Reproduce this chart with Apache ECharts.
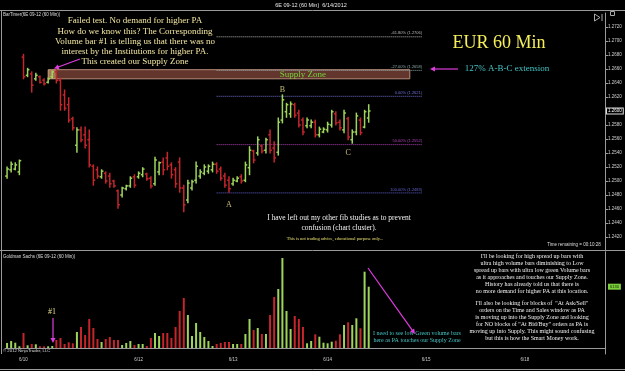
<!DOCTYPE html>
<html>
<head>
<meta charset="utf-8">
<title>6E 09-12 (60 Min)</title>
<script src="https://cdn.jsdelivr.net/npm/echarts@6/dist/echarts.min.js"></script>
<style>
  html, body { margin: 0; padding: 0; background: #000; }
  #chart { width: 625px; height: 371px; }
</style>
</head>
<body>
<div id="chart"></div>
<script>
// 60 min bars, 6/8 late session to 6/14, one slot per hour (empty slots = future space)
var barCount = 146;
var categories = [];
for (var i = 0; i < barCount; i++) categories.push(String(i));

var tickIndex = [4, 9, 32, 55, 78, 102, 126];
var tickLabel = ['6/10', '', '6/12', '6/13', '6/14', '6/15', '6/18'];

var opens = [1.2507,1.2516,1.2517,1.2513,1.2677,1.2651,1.2653,1.2646,1.2649,1.2644,
  1.2641,1.2649,1.2656,1.2644,1.2623,1.2609,1.2589,1.2551,1.2573,1.2566,
  1.2559,1.2521,1.2516,1.2506,1.2511,1.2507,1.2500,1.2486,1.2480,1.2489,
  1.2493,1.2506,1.2506,1.2509,1.2510,1.2504,1.2496,1.2513,1.2527,1.2533,
  1.2523,1.2516,1.2527,1.2490,1.2473,1.2490,1.2501,1.2507,1.2511,1.2514,
  1.2516,1.2524,1.2517,1.2507,1.2501,1.2496,1.2500,1.2506,1.2501,1.2519,
  1.2543,1.2540,1.2550,1.2544,1.2566,1.2547,1.2541,1.2587,1.2599,1.2596,
  1.2609,1.2597,1.2587,1.2579,1.2579,1.2584,1.2566,1.2570,1.2573,1.2580,
  1.2596,1.2584,1.2573,1.2589,1.2559,1.2570,1.2587,1.2577,1.2590];
var highs = [1.2520,1.2527,1.2526,1.2530,1.2681,1.2661,1.2656,1.2654,1.2650,1.2646,
  1.2647,1.2657,1.2659,1.2647,1.2630,1.2619,1.2591,1.2576,1.2577,1.2577,
  1.2573,1.2523,1.2520,1.2516,1.2513,1.2511,1.2501,1.2487,1.2491,1.2494,
  1.2506,1.2509,1.2513,1.2519,1.2511,1.2506,1.2534,1.2527,1.2533,1.2541,
  1.2526,1.2519,1.2533,1.2494,1.2501,1.2501,1.2527,1.2516,1.2523,1.2523,
  1.2527,1.2526,1.2520,1.2511,1.2506,1.2504,1.2506,1.2509,1.2527,1.2549,
  1.2544,1.2563,1.2551,1.2561,1.2573,1.2556,1.2590,1.2623,1.2611,1.2613,
  1.2611,1.2601,1.2590,1.2590,1.2587,1.2587,1.2577,1.2576,1.2584,1.2601,
  1.2599,1.2587,1.2601,1.2591,1.2573,1.2597,1.2590,1.2601,1.2609];
var lows = [1.2504,1.2513,1.2516,1.2509,1.2646,1.2649,1.2627,1.2644,1.2640,1.2637,
  1.2640,1.2647,1.2640,1.2601,1.2601,1.2584,1.2573,1.2541,1.2556,1.2547,
  1.2520,1.2494,1.2504,1.2504,1.2497,1.2491,1.2491,1.2461,1.2477,1.2487,
  1.2491,1.2491,1.2504,1.2506,1.2501,1.2490,1.2494,1.2509,1.2509,1.2516,
  1.2504,1.2491,1.2484,1.2456,1.2469,1.2487,1.2497,1.2504,1.2509,1.2511,
  1.2513,1.2511,1.2501,1.2491,1.2484,1.2494,1.2499,1.2497,1.2499,1.2509,
  1.2526,1.2537,1.2540,1.2540,1.2540,1.2527,1.2537,1.2583,1.2591,1.2591,
  1.2591,1.2577,1.2566,1.2576,1.2576,1.2563,1.2563,1.2569,1.2570,1.2577,
  1.2580,1.2573,1.2569,1.2559,1.2554,1.2566,1.2566,1.2576,1.2584];
var closes = [1.2517,1.2524,1.2523,1.2529,1.2649,1.2659,1.2637,1.2651,1.2641,1.2639,
  1.2646,1.2656,1.2644,1.2609,1.2604,1.2587,1.2576,1.2573,1.2559,1.2551,
  1.2523,1.2501,1.2507,1.2514,1.2500,1.2496,1.2493,1.2466,1.2490,1.2493,
  1.2504,1.2494,1.2511,1.2517,1.2503,1.2493,1.2530,1.2526,1.2516,1.2521,
  1.2509,1.2496,1.2490,1.2466,1.2497,1.2499,1.2521,1.2513,1.2520,1.2521,
  1.2524,1.2514,1.2504,1.2494,1.2489,1.2501,1.2504,1.2500,1.2523,1.2544,
  1.2530,1.2559,1.2543,1.2559,1.2544,1.2533,1.2584,1.2616,1.2609,1.2610,
  1.2594,1.2580,1.2570,1.2587,1.2584,1.2566,1.2574,1.2574,1.2581,1.2599,
  1.2583,1.2576,1.2597,1.2563,1.2570,1.2593,1.2569,1.2599,1.2600];
var volumes = [500,700,530,170,1500,270,400,370,170,170,
  170,200,800,1000,400,570,470,1600,2100,1300,
  2900,2000,900,600,900,1100,800,800,300,500,
  700,300,400,400,200,1000,1500,1200,1500,1500,
  1000,2100,3700,5000,3300,1200,2500,1600,1100,700,
  200,400,500,600,600,400,400,400,1400,2900,
  1800,2000,1400,1400,3300,5100,5900,9000,3700,1900,
  3200,2900,2100,470,700,1370,1130,530,470,630,
  730,1370,2300,2570,2300,2970,1970,7630,6130];

// fib study (A 1.2483, B 1.2621)
var fibNames = ['-61.80%', '-27.00%', '0.00%', '50.00%', '100.00%'];
var fibLevels = [1.2706, 1.2658, 1.2621, 1.2552, 1.2483];
var supplyZone = [1.2646, 1.2659];
var lastPrice = 1.2600;

var up = '#9fd45c';
var down = '#c4262c';
var magenta = '#e03ce0';
var serif = '"Liberation Serif", "DejaVu Serif", serif';
var sans = '"Liberation Sans", "DejaVu Sans", sans-serif';

var ohlc = opens.map(function (o, i) {
  return [i, o, closes[i], lows[i], highs[i]];
});
var volData = volumes.map(function (v, i) {
  return { value: v, itemStyle: { color: closes[i] >= opens[i] ? up : down } };
});

// OHLC bar: high-low stick, open tick left, close tick right
function renderBar(params, api) {
  var x = api.value(0);
  var o = api.coord([x, api.value(1)]);
  var c = api.coord([x, api.value(2)]);
  var l = api.coord([x, api.value(3)]);
  var h = api.coord([x, api.value(4)]);
  var w = api.size([1, 0])[0] * 0.45;
  var st = { stroke: api.value(2) >= api.value(1) ? up : down, lineWidth: 1.5 };
  return {
    type: 'group',
    children: [
      { type: 'line', shape: { x1: h[0], y1: h[1] - 0.5, x2: l[0], y2: l[1] + 0.5 }, style: st },
      { type: 'line', shape: { x1: o[0] - w, y1: o[1], x2: o[0], y2: o[1] }, style: st },
      { type: 'line', shape: { x1: c[0], y1: c[1], x2: c[0] + w, y2: c[1] }, style: st }
    ]
  };
}

var fibColors = ['#b8b8b8', '#8aa8a8', '#7070d8', '#b040b8', '#6060d0'];
var fibSeries = fibLevels.map(function (lv, k) {
  var s = {
    type: 'line',
    xAxisIndex: 0,
    yAxisIndex: 0,
    symbol: 'none',
    silent: true,
    lineStyle: { color: fibColors[k], width: 1, type: 'dotted' },
    data: [[51, lv], [101, lv]],
    markPoint: {
      silent: true,
      symbol: 'circle',
      symbolSize: 1,
      itemStyle: { color: 'transparent' },
      label: {
        show: true, position: 'top', align: 'right', distance: 1,
        formatter: fibNames[k] + ' (' + lv.toFixed(4) + ')',
        color: fibColors[k], fontSize: 4, fontFamily: sans
      },
      data: [{ coord: [101, lv] }]
    }
  };
  if (k === 0) {
    s.markArea = {
      silent: true,
      data: [
        [
          {
            coord: [10, supplyZone[1]],
            itemStyle: { color: 'rgba(165,90,75,0.6)', borderColor: '#b88a78', borderWidth: 1 },
            label: {
              show: true, position: 'inside', offset: [74, 0], formatter: 'Supply Zone',
              color: '#76d23a', fontSize: 9, fontFamily: serif
            }
          },
          { coord: [98, supplyZone[0]] }
        ],
        [
          { coord: [10, supplyZone[1]], itemStyle: { color: 'rgba(235,205,140,0.45)' }, label: { show: false } },
          { coord: [12, supplyZone[0]] }
        ]
      ]
    };
    // boxed last price on the axis
    s.markLine = {
      silent: true,
      symbol: 'none',
      lineStyle: { color: 'transparent', width: 0 },
      label: {
        show: true, position: 'end', distance: 2, formatter: lastPrice.toFixed(4),
        color: '#fff', fontSize: 4.5, fontFamily: sans,
        backgroundColor: '#000', borderColor: '#ddd', borderWidth: 1, padding: [0, 1]
      },
      data: [{ yAxis: lastPrice }]
    };
  }
  return s;
});

// A, B, C swing labels
var swingSeries = {
  type: 'scatter',
  xAxisIndex: 0,
  yAxisIndex: 0,
  silent: true,
  symbolSize: 1,
  itemStyle: { color: 'transparent' },
  label: {
    show: true, position: 'inside', color: '#ece08a', fontSize: 8, fontFamily: serif,
    formatter: function (p) { return p.name; }
  },
  data: [
    { name: 'A', value: [54, 1.2466] },
    { name: 'B', value: [67, 1.2630] },
    { name: 'C', value: [83, 1.2540] }
  ]
};

function text(x, y, s, size, color, font, align) {
  align = align || 'center';
  return {
    type: 'text', x: x, y: y, silent: true,
    style: {
      text: s, fill: color, font: size + 'px ' + (font || serif),
      textAlign: align, align: align, textVerticalAlign: 'middle', verticalAlign: 'middle'
    }
  };
}
function hline(x1, x2, y) {
  return { type: 'line', silent: true, shape: { x1: x1, y1: y, x2: x2, y2: y }, style: { stroke: '#9a9a9a', lineWidth: 1 } };
}
function arrow(x1, y1, x2, y2) {
  var a = Math.atan2(y2 - y1, x2 - x1), L = 5, W = 2.5;
  var ca = Math.cos(a), sa = Math.sin(a);
  return [
    { type: 'line', silent: true, shape: { x1: x1, y1: y1, x2: x2 - L * ca * 0.6, y2: y2 - L * sa * 0.6 }, style: { stroke: magenta, lineWidth: 1.2 } },
    {
      type: 'polygon', silent: true,
      shape: { points: [[x2, y2], [x2 - L * ca + W * sa, y2 - L * sa - W * ca], [x2 - L * ca - W * sa, y2 - L * sa + W * ca]] },
      style: { fill: magenta }
    }
  ];
}

var noteLines = [
  'Failed test. No demand for higher PA',
  'How do we know this? The Corresponding',
  'Volume bar #1 is telling us that there was no',
  'interest by the Institutions for higher PA.',
  'This created our Supply Zone'
];
var rightNote = [
  "I'll be looking for high spread up bars with",
  'ultra high volume bars diminishing to Low',
  'spread up bars with ultra low green Volume bars',
  'as it approaches and touches our Supply Zone.',
  'History has already told us that there is',
  'no more demand for higher PA at this location.',
  '',
  'I\'ll also be looking for blocks of  "At Ask/Sell"',
  'orders on the Time and Sales window as PA',
  'is moving up into the Supply Zone and looking',
  'for NO blocks of "At Bid/Buy" orders as PA is',
  'moving up into Supply. This might sound confusing',
  'but this is how the Smart Money work.'
];

var elements = [
  hline(0, 625, 10.5), hline(0, 625, 250.5), hline(0, 625, 369.5),
  { type: 'line', silent: true, shape: { x1: 1.5, y1: 10, x2: 1.5, y2: 354 }, style: { stroke: '#9a9a9a', lineWidth: 1 } },
  { type: 'polyline', silent: true, shape: { points: [[594.5, 14], [594.5, 21], [600, 17.5], [594.5, 14]] }, style: { stroke: '#aaa', fill: null, lineWidth: 1 } },
  { type: 'line', silent: true, shape: { x1: 602, y1: 14, x2: 602, y2: 21 }, style: { stroke: '#aaa', lineWidth: 1 } },
  { type: 'rect', silent: true, shape: { x: 610.5, y: 11.5, width: 4, height: 4 }, style: { stroke: '#aaa', fill: null, lineWidth: 1 } },
  text(311, 5, '6E 09-12 (60 Min)  6/14/2012', 5.5, '#e8e8e8', sans),
  text(3, 15, 'BarTimer(6E 09-12 (60 Min))', 4.5, '#dddddd', sans, 'left'),
  text(499, 43, 'EUR 60 Min', 18, '#f5ef5a'),
  text(507, 69, '127% A-B-C extension', 9, '#45c4c4'),
  text(339, 218, 'I have left out my other fib studies as to prevent', 7.5, '#f2f2f2'),
  text(339, 228, 'confusion (chart cluster).', 7.5, '#f2f2f2'),
  text(335, 239, 'This is not trading advice, educational purpose only...', 4.5, '#e8e070'),
  text(574, 245, 'Time remaining = 00:10:28', 4.5, '#dddddd', sans),
  text(3, 257, 'Goldman Sachs (6E 09-12 (60 Min))', 4.5, '#dddddd', sans, 'left'),
  text(3, 351, '\u00a9 2012 NinjaTrader, LLC', 4.3, '#dddddd', sans, 'left'),
  text(52, 312, '#1', 8, '#e6dc8c'),
  text(417, 333, 'I need to see low Green volume bars', 6, '#45c4c4'),
  text(417, 340, 'here as PA touches our Supply Zone', 6, '#45c4c4')
];
var noteY = [21, 31.5, 42, 52, 62];
noteLines.forEach(function (s, k) { elements.push(text(135, noteY[k], s, 9, '#f2e6a0')); });
rightNote.forEach(function (s, k) {
  if (s) elements.push(text(532, k < 6 ? 256 + k * 7 : 303.3 + (k - 7) * 7.1, s, 6, '#f2f2f2'));
});
elements = elements.concat(
  arrow(80, 59, 54, 68.5),
  arrow(458, 69, 430, 69),
  arrow(53, 318, 53, 343),
  arrow(368, 268, 415, 334)
);

var myChart = echarts.init(document.getElementById('chart'));
myChart.setOption({
  backgroundColor: '#000',
  animation: false,
  grid: [
    { left: 5, right: 20, top: 13, bottom: 120 },
    { left: 5, right: 20, top: 252, bottom: 17 }
  ],
  xAxis: [
    { gridIndex: 0, type: 'category', data: categories, boundaryGap: true, show: false },
    {
      gridIndex: 1, type: 'category', data: categories, boundaryGap: true,
      axisLine: { lineStyle: { color: '#9a9a9a' } },
      axisTick: {
        alignWithLabel: true, length: 3, lineStyle: { color: '#9a9a9a' },
        interval: function (i) { return tickIndex.indexOf(i) >= 0; }
      },
      axisLabel: {
        interval: function (i) { return tickIndex.indexOf(i) >= 0; },
        formatter: function (v, i) { return tickLabel[tickIndex.indexOf(i)] || ''; },
        color: '#cccccc', fontSize: 4.5, fontFamily: sans, margin: 3
      }
    }
  ],
  yAxis: [
    {
      gridIndex: 0, type: 'value', position: 'right', min: 1.24, max: 1.274, interval: 0.002,
      axisLine: { show: true, lineStyle: { color: '#9a9a9a' } },
      axisTick: { show: true, length: 3, lineStyle: { color: '#9a9a9a' } },
      axisLabel: {
        color: '#d0d0d0', fontSize: 4.5, fontFamily: sans, margin: 3,
        showMinLabel: false, showMaxLabel: false,
        formatter: function (v) { return v.toFixed(4); }
      },
      splitLine: { show: false }
    },
    {
      gridIndex: 1, type: 'value', position: 'right', min: -600, max: 9600,
      axisLine: { show: true, lineStyle: { color: '#9a9a9a' } },
      axisTick: { show: false }, axisLabel: { show: false }, splitLine: { show: false }
    }
  ],
  series: fibSeries.concat([
    swingSeries,
    {
      type: 'custom',
      name: '6E 09-12',
      xAxisIndex: 0,
      yAxisIndex: 0,
      z: 5,
      renderItem: renderBar,
      encode: { x: 0, y: [1, 2, 3, 4] },
      data: ohlc
    },
    {
      type: 'bar',
      name: 'Volume',
      xAxisIndex: 1,
      yAxisIndex: 1,
      barWidth: 2,
      data: volData,
      markLine: {
        silent: true,
        symbol: 'none',
        lineStyle: { color: 'transparent', width: 0 },
        label: {
          show: true, position: 'end', distance: 3, formatter: String(volumes[volumes.length - 1]),
          color: '#102000', fontSize: 4, fontFamily: sans, backgroundColor: '#7ccf3c', padding: [1, 2]
        },
        data: [{ yAxis: volumes[volumes.length - 1] }]
      }
    }
  ]),
  graphic: { elements: elements }
});
window.onresize = function () { myChart.resize(); };
</script>
</body>
</html>
